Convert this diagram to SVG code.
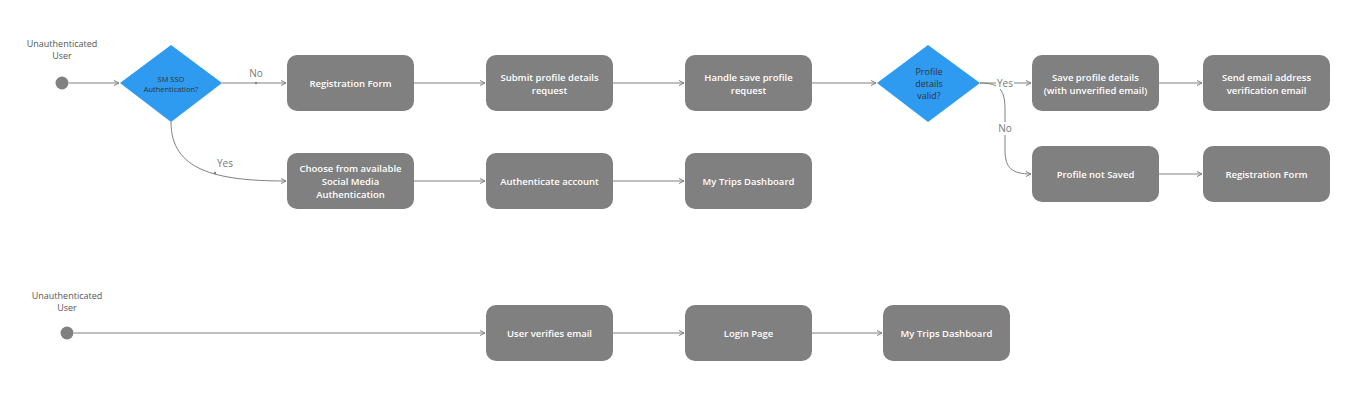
<svg xmlns="http://www.w3.org/2000/svg" width="1356" height="414" viewBox="0 0 1356 414">
<defs>
<marker id="arr" markerWidth="8" markerHeight="8" refX="6" refY="4" orient="auto" markerUnits="userSpaceOnUse">
<path d="M1,1.5 L6,4 L1,6.5" fill="none" stroke="#808080" stroke-width="1"/>
</marker>
<style>
.box{fill:#808080;}
.dia{fill:#2e9bf0;}
.bt{font-family:"Open Sans","Liberation Sans",sans-serif;font-size:9.5px;font-weight:600;fill:#ffffff;text-anchor:middle;}
.dt{font-family:"Open Sans","Liberation Sans",sans-serif;fill:#333333;text-anchor:middle;}
.lt{font-family:"Open Sans","Liberation Sans",sans-serif;font-size:9px;fill:#555555;text-anchor:middle;}
.el{font-family:"Open Sans","Liberation Sans",sans-serif;font-size:10px;fill:#777777;text-anchor:middle;}
.c{fill:none;stroke:#808080;stroke-width:1;marker-end:url(#arr);}
.st{fill:#808080;}
</style>
</defs>
<rect width="1356" height="414" fill="#ffffff"/>
<g id="connectors">
<path class="c" d="M69,83 H119"/>
<path class="c" d="M222,83 H286"/>
<circle cx="256" cy="83" r="1.2" fill="#808080"/>
<path class="c" d="M171,122 C171,170 215,181 286,181"/>
<circle cx="215" cy="173" r="1.2" fill="#808080"/>
<path class="c" d="M414,83 H485"/>
<path class="c" d="M613,83 H684"/>
<path class="c" d="M812,83 H876"/>
<path class="c" d="M980,83 H1031"/>
<path class="c" d="M980,83 C1000,83 1005,90 1005,110 V150 C1005,168 1012,174 1031,174"/>
<path class="c" d="M1159,83 H1202"/>
<path class="c" d="M1159,174 H1202"/>
<path class="c" d="M414,181 H485"/>
<path class="c" d="M613,181 H684"/>
<path class="c" d="M74,333 H485"/>
<path class="c" d="M613,333 H684"/>
<path class="c" d="M812,333 H882"/>
<text class="el" x="256" y="77">No</text>
<text class="el" x="225" y="167">Yes</text>
<rect x="996" y="77" width="18" height="12" fill="#ffffff"/>
<text class="el" x="1005" y="87">Yes</text>
<rect x="997" y="122" width="16" height="13" fill="#ffffff"/>
<text class="el" x="1005" y="132">No</text>
</g>
<g id="start1">
<circle class="st" cx="62" cy="83" r="6.5"/>
<text class="lt" x="62" y="47">Unauthenticated</text>
<text class="lt" x="62" y="59">User</text>
</g>
<g id="decision-sso">
<polygon class="dia" points="171,45 222,83 171,122 120,83"/>
<text class="dt" font-size="7.5" x="171" y="82">SM SSO</text>
<text class="dt" font-size="7.5" x="171" y="92">Authentication?</text>
</g>
<g id="registration-form">
<rect class="box" x="287" y="55" width="127" height="56" rx="10"/>
<text class="bt" x="350.5" y="87">Registration Form</text>
</g>
<g id="submit-profile">
<rect class="box" x="486" y="55" width="127" height="56" rx="10"/>
<text class="bt" x="549.5" y="81">Submit profile details</text>
<text class="bt" x="549.5" y="94">request</text>
</g>
<g id="handle-save">
<rect class="box" x="685" y="55" width="127" height="56" rx="10"/>
<text class="bt" x="748.5" y="81">Handle save profile</text>
<text class="bt" x="748.5" y="94">request</text>
</g>
<g id="decision-valid">
<polygon class="dia" points="928,45 980,83 928,122 877,83"/>
<text class="dt" font-size="9" x="929" y="75">Profile</text>
<text class="dt" font-size="9" x="929" y="87">details</text>
<text class="dt" font-size="9" x="929" y="99">valid?</text>
</g>
<g id="save-profile">
<rect class="box" x="1032" y="55" width="127" height="56" rx="10"/>
<text class="bt" x="1095.5" y="81">Save profile details</text>
<text class="bt" x="1095.5" y="94">(with unverified email)</text>
</g>
<g id="send-email">
<rect class="box" x="1203" y="55" width="127" height="56" rx="10"/>
<text class="bt" x="1266.5" y="81">Send email address</text>
<text class="bt" x="1266.5" y="94">verification email</text>
</g>
<g id="profile-not-saved">
<rect class="box" x="1032" y="146" width="127" height="56" rx="10"/>
<text class="bt" x="1095.5" y="178">Profile not Saved</text>
</g>
<g id="registration-form-2">
<rect class="box" x="1203" y="146" width="127" height="56" rx="10"/>
<text class="bt" x="1266.5" y="178">Registration Form</text>
</g>
<g id="choose-social">
<rect class="box" x="287" y="153" width="127" height="56" rx="10"/>
<text class="bt" x="350.5" y="172">Choose from available</text>
<text class="bt" x="350.5" y="185">Social Media</text>
<text class="bt" x="350.5" y="198">Authentication</text>
</g>
<g id="authenticate">
<rect class="box" x="486" y="153" width="127" height="56" rx="10"/>
<text class="bt" x="549.5" y="185">Authenticate account</text>
</g>
<g id="dashboard-1">
<rect class="box" x="685" y="153" width="127" height="56" rx="10"/>
<text class="bt" x="748.5" y="185">My Trips Dashboard</text>
</g>
<g id="start2">
<circle class="st" cx="67" cy="333" r="6.5"/>
<text class="lt" x="67" y="299">Unauthenticated</text>
<text class="lt" x="67" y="311">User</text>
</g>
<g id="verify-email">
<rect class="box" x="486" y="305" width="127" height="56" rx="10"/>
<text class="bt" x="549.5" y="337">User verifies email</text>
</g>
<g id="login-page">
<rect class="box" x="685" y="305" width="127" height="56" rx="10"/>
<text class="bt" x="748.5" y="337">Login Page</text>
</g>
<g id="dashboard-2">
<rect class="box" x="883" y="305" width="127" height="56" rx="10"/>
<text class="bt" x="946.5" y="337">My Trips Dashboard</text>
</g>
</svg>
